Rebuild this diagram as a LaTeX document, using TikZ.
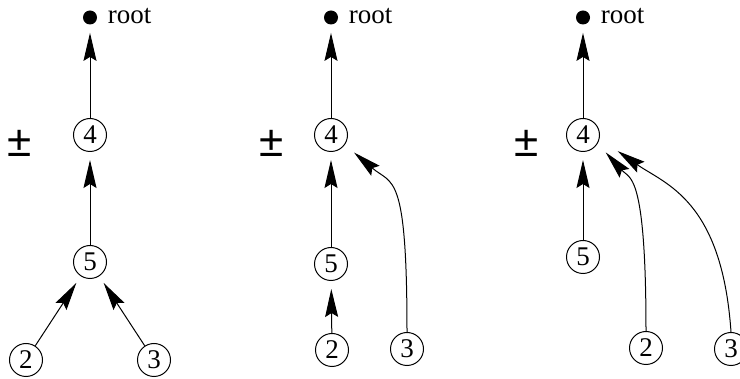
\documentclass[tikz,border=0pt]{standalone}
\usepackage{fontspec}
\setmainfont{Liberation Serif}
\newfontfamily\pmfont{Liberation Sans}
\usetikzlibrary{arrows.meta}
\usetikzlibrary{positioning}
\tikzset{
vertex/.style={
  circle,draw,
  line width=0.5pt,
  minimum size=16.5pt,
  inner sep=0pt,
  font=\fontsize{13.5}{14}\selectfont
},
rootdot/.style={circle,fill,minimum size=7pt,inner sep=0pt},
rootlabel/.style={inner sep=0pt,font=\fontsize{13.5}{14}\selectfont},
pmsign/.style={inner sep=0pt,font=\pmfont\fontsize{22}{22}\selectfont},
link/.style={
  line width=0.5pt,
  -{Stealth[length=14pt,width=6.5pt,inset=2pt]},
  shorten >=4pt
},
}

\begin{document}
\begin{tikzpicture}[x=0.5pt,y=-0.5pt]
\useasboundingbox (0,0) rectangle (740,379);
% the three trees: root, 4, 5 and the sign
\foreach \p/\x/\f/\s in {a/90/262/20, b/331/264/272, c/583/257/527}
{
  \node[rootdot] (root-\p) at (\x,17.5) {};
  \node[rootlabel, right=5pt of root-\p, anchor=base west, yshift=-3pt] (lab-\p) {root};
  \node[vertex] (n4-\p) at (\x,135) {4};
  \node[vertex] (n5-\p) at (\x,\f) {5};
  \node[pmsign] (pm-\p) at (\s,143) {±};
  \draw[link] (n4-\p) -- (root-\p);
  \draw[link] (n5-\p) -- (n4-\p);
}
% the leaves
\node[vertex] (n2-a) at (26,360) {2};
\node[vertex] (n3-a) at (154,360) {3};
\node[vertex] (n2-b) at (332,350) {2};
\node[vertex] (n3-b) at (407,349) {3};
\node[vertex] (n2-c) at (646,348) {2};
\node[vertex] (n3-c) at (731,349) {3};
% the arrows
\draw[link] (n2-a) -- (n5-a);
\draw[link] (n3-a) -- (n5-a);
\draw[link] (n2-b) -- (n5-b);
\draw[link, shorten >=6pt] (n3-b.north) .. controls +(0,-162) and +(47.5,40.5) .. (n4-b.-35);
\draw[link, shorten >=6pt] (n2-c.north) .. controls +(0,-161) and +(31.7,35.3) .. (n4-c.-30);
\draw[link, shorten >=11pt] (n3-c.north) .. controls +(-9,-132) and +(65.6,45.6) .. (n4-c.-12);
\end{tikzpicture}
\end{document}
